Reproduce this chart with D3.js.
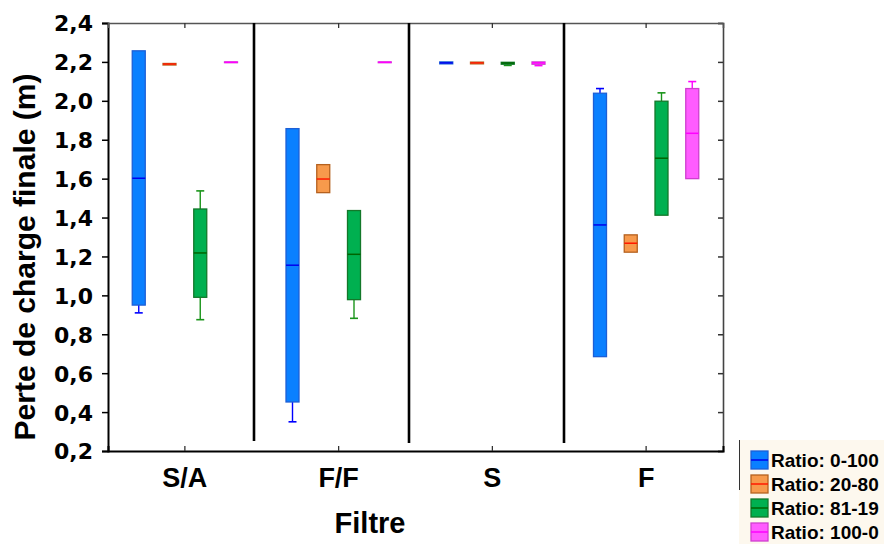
<!DOCTYPE html>
<html>
<head>
<meta charset="utf-8">
<script src="https://cdn.jsdelivr.net/npm/d3@7/dist/d3.min.js"></script>
<style>
  html, body { margin: 0; padding: 0; background: #ffffff; }
  svg { display: block; }
</style>
</head>
<body>
<svg id="chart" width="884" height="544"></svg>
<script>
// Filter types on the x axis
const categories = ["S/A", "F/F", "S", "F"];

// Mix ratios (one box per ratio inside each filter group)
const series = ["Ratio: 0-100", "Ratio: 20-80", "Ratio: 81-19", "Ratio: 100-0"];

// Box statistics per ratio, one value per filter (S/A, F/F, S, F)
const ratio0_100_min = [0.91, 0.35, 2.190, 0.685];
const ratio0_100_q1  = [0.95, 0.452, 2.190, 0.685];
const ratio0_100_med = [1.602, 1.155, 2.195, 1.362];
const ratio0_100_q3  = [2.257, 1.857, 2.200, 2.039];
const ratio0_100_max = [2.257, 1.857, 2.200, 2.063];

const ratio20_80_min = [2.184, 1.528, 2.190, 1.222];
const ratio20_80_q1  = [2.184, 1.528, 2.190, 1.222];
const ratio20_80_med = [2.189, 1.598, 2.195, 1.268];
const ratio20_80_q3  = [2.192, 1.672, 2.199, 1.311];
const ratio20_80_max = [2.192, 1.672, 2.199, 1.311];

const ratio81_19_min = [0.875, 0.882, 2.182, 1.412];
const ratio81_19_q1  = [0.990, 0.978, 2.188, 1.412];
const ratio81_19_med = [1.218, 1.211, 2.194, 1.705];
const ratio81_19_q3  = [1.444, 1.436, 2.198, 1.998];
const ratio81_19_max = [1.537, 1.436, 2.198, 2.041];

const ratio100_0_min = [2.196, 2.196, 2.181, 1.600];
const ratio100_0_q1  = [2.196, 2.196, 2.188, 1.600];
const ratio100_0_med = [2.198, 2.198, 2.195, 1.833];
const ratio100_0_q3  = [2.200, 2.200, 2.200, 2.063];
const ratio100_0_max = [2.200, 2.200, 2.200, 2.099];

// Axis ticks
const yTicks = [0.2, 0.4, 0.6, 0.8, 1.0, 1.2, 1.4, 1.6, 1.8, 2.0, 2.2, 2.4];

// Colours per ratio: fill, box outline, median, whisker
const fills    = ["#0a80ff", "#f79a4c", "#00b050", "#ff5cff"];
const outlines = ["#1d5fd6", "#b5611f", "#13782a", "#cf3fcf"];
const medians  = ["#0000ee", "#ff1a00", "#006400", "#ff00ff"];
const whiskers = ["#0000ff", "#b5611f", "#1a941a", "#ff00ff"];

const stats = [
  [ratio0_100_min, ratio0_100_q1, ratio0_100_med, ratio0_100_q3, ratio0_100_max],
  [ratio20_80_min, ratio20_80_q1, ratio20_80_med, ratio20_80_q3, ratio20_80_max],
  [ratio81_19_min, ratio81_19_q1, ratio81_19_med, ratio81_19_q3, ratio81_19_max],
  [ratio100_0_min, ratio100_0_q1, ratio100_0_med, ratio100_0_q3, ratio100_0_max]
];

const boxes = [];
series.forEach((s, si) => {
  categories.forEach((c, ci) => {
    const [mn, q1, md, q3, mx] = stats[si].map(a => a[ci]);
    boxes.push({ series: s, si, cat: c, min: mn, q1, med: md, q3, max: mx });
  });
});

const svg = d3.select("#chart");
const plot = { left: 108, right: 723, top: 23, bottom: 451 };

const x = d3.scaleBand().domain(categories).range([plot.left, plot.right]).padding(0);
const xs = d3.scaleBand().domain(series).range([-61.5, 61.5]).padding(0);
const y = d3.scaleLinear().domain([0.2, 2.4]).range([plot.bottom, plot.top]);

const fmt = d => d3.format(".1f")(d).replace(".", ",");
const boxW = 13;
const capW = 8;

// Left axis with outward ticks
const gl = svg.append("g").attr("transform", `translate(${plot.left},0)`)
  .call(d3.axisLeft(y).tickValues(yTicks).tickSize(6).tickPadding(9).tickFormat(fmt));
gl.select(".domain").attr("stroke", "#000").attr("stroke-width", 2);
gl.selectAll(".tick line").attr("stroke", "#000").attr("stroke-width", 1.5);
gl.selectAll(".tick text")
  .attr("font-family", "'DejaVu Sans', sans-serif")
  .attr("font-weight", "bold").attr("font-size", 22).attr("fill", "#000")
  .attr("dy", "0.36em");

// Right axis with inward ticks
const gr = svg.append("g").attr("transform", `translate(${plot.right},0)`)
  .call(d3.axisLeft(y).tickValues(yTicks).tickSize(5).tickFormat(""));
gr.select(".domain").attr("stroke", "#444").attr("stroke-width", 1.6);
gr.selectAll(".tick line").attr("stroke", "#333").attr("stroke-width", 1.5);

// Top axis with inward ticks at the group centres
const gt = svg.append("g").attr("transform", `translate(0,${plot.top})`)
  .call(d3.axisBottom(x).tickSize(5).tickFormat(""));
gt.select(".domain").attr("stroke", "#555").attr("stroke-width", 1.6);
gt.selectAll(".tick line").attr("stroke", "#333").attr("stroke-width", 1.3);

// Bottom axis with inward ticks and filter labels
const gb = svg.append("g").attr("transform", `translate(0,${plot.bottom})`)
  .call(d3.axisTop(x).tickSize(5).tickFormat(""));
gb.select(".domain").attr("stroke", "#000").attr("stroke-width", 2);
gb.selectAll(".tick line").attr("stroke", "#333").attr("stroke-width", 1.3);

svg.append("g").selectAll("text").data(categories).join("text")
  .attr("x", d => x(d) + x.bandwidth() / 2)
  .attr("y", plot.bottom + 36)
  .attr("text-anchor", "middle")
  .attr("font-family", "'Liberation Sans', Arial, sans-serif")
  .attr("font-weight", "bold").attr("font-size", 27).attr("fill", "#000")
  .text(d => d);

// Group separators (spaced slightly wider than the groups)
svg.append("g").selectAll("line").data(categories.slice(0, -1)).join("line")
  .attr("x1", (d, i) => x(d) + x.step() - 7.75 + i * 1.25)
  .attr("x2", (d, i) => x(d) + x.step() - 7.75 + i * 1.25)
  .attr("y1", plot.top)
  .attr("y2", (d, i) => plot.bottom - (i === 0 ? 10 : 8))
  .attr("stroke", "#000").attr("stroke-width", 2.6);

// Box plots
const cx = d => x(d.cat) + x.bandwidth() / 2 + xs(d.series) + xs.bandwidth() / 2;
const g = svg.append("g");
const bx = g.selectAll("g.box").data(boxes).join("g").attr("class", "box");

// upper whiskers
bx.filter(d => d.max > d.q3).append("line")
  .attr("x1", cx).attr("x2", cx)
  .attr("y1", d => y(d.q3)).attr("y2", d => y(d.max))
  .attr("stroke", d => whiskers[d.si]).attr("stroke-width", 1.4);
bx.filter(d => d.max > d.q3).append("line")
  .attr("x1", d => cx(d) - capW / 2).attr("x2", d => cx(d) + capW / 2)
  .attr("y1", d => y(d.max)).attr("y2", d => y(d.max))
  .attr("stroke", d => whiskers[d.si]).attr("stroke-width", 1.6);
// lower whiskers
bx.filter(d => d.min < d.q1).append("line")
  .attr("x1", cx).attr("x2", cx)
  .attr("y1", d => y(d.q1)).attr("y2", d => y(d.min))
  .attr("stroke", d => whiskers[d.si]).attr("stroke-width", 1.4);
bx.filter(d => d.min < d.q1).append("line")
  .attr("x1", d => cx(d) - capW / 2).attr("x2", d => cx(d) + capW / 2)
  .attr("y1", d => y(d.min)).attr("y2", d => y(d.min))
  .attr("stroke", d => whiskers[d.si]).attr("stroke-width", 1.6);
// boxes
bx.append("rect")
  .attr("x", d => cx(d) - boxW / 2)
  .attr("width", boxW)
  .attr("y", d => y(d.q3))
  .attr("height", d => Math.max(0.5, y(d.q1) - y(d.q3)))
  .attr("fill", d => fills[d.si])
  .attr("stroke", d => outlines[d.si]).attr("stroke-width", 1.3);
// medians
bx.append("line")
  .attr("x1", d => cx(d) - boxW / 2).attr("x2", d => cx(d) + boxW / 2)
  .attr("y1", d => y(d.med)).attr("y2", d => y(d.med))
  .attr("stroke", d => medians[d.si]).attr("stroke-width", 1.5);

// Axis titles
svg.append("text")
  .attr("transform", `translate(35,${(plot.top + plot.bottom) / 2 + 20}) rotate(-90)`)
  .attr("text-anchor", "middle")
  .attr("font-family", "'Liberation Sans', Arial, sans-serif")
  .attr("font-weight", "bold").attr("font-size", 30).attr("fill", "#000")
  .text("Perte de charge finale (m)");

svg.append("text")
  .attr("x", 370).attr("y", 533)
  .attr("text-anchor", "middle")
  .attr("font-family", "'Liberation Sans', Arial, sans-serif")
  .attr("font-weight", "bold").attr("font-size", 29).attr("fill", "#000")
  .text("Filtre");

// Legend
const lg = svg.append("g").attr("transform", "translate(739,440)");
lg.append("rect").attr("x", 0).attr("y", 0).attr("width", 145).attr("height", 104)
  .attr("fill", "#fdf8ee");
lg.append("line").attr("x1", 0.5).attr("x2", 0.5).attr("y1", 0).attr("y2", 50)
  .attr("stroke", "#333").attr("stroke-width", 1);
const li = lg.selectAll("g.item").data(series).join("g").attr("class", "item")
  .attr("transform", (d, i) => `translate(12,${11 + i * 24})`);
li.append("rect").attr("x", 0).attr("y", 0).attr("width", 17).attr("height", 18)
  .attr("fill", (d, i) => fills[i]).attr("stroke", (d, i) => outlines[i]).attr("stroke-width", 1.3);
li.append("line").attr("x1", 0).attr("x2", 17).attr("y1", 9).attr("y2", 9)
  .attr("stroke", (d, i) => medians[i]).attr("stroke-width", 1.5);
li.append("text").attr("x", 20).attr("y", 16)
  .attr("font-family", "'Liberation Sans', Arial, sans-serif")
  .attr("font-weight", "bold").attr("font-size", 19).attr("fill", "#000")
  .text(d => d);
</script>
</body>
</html>
